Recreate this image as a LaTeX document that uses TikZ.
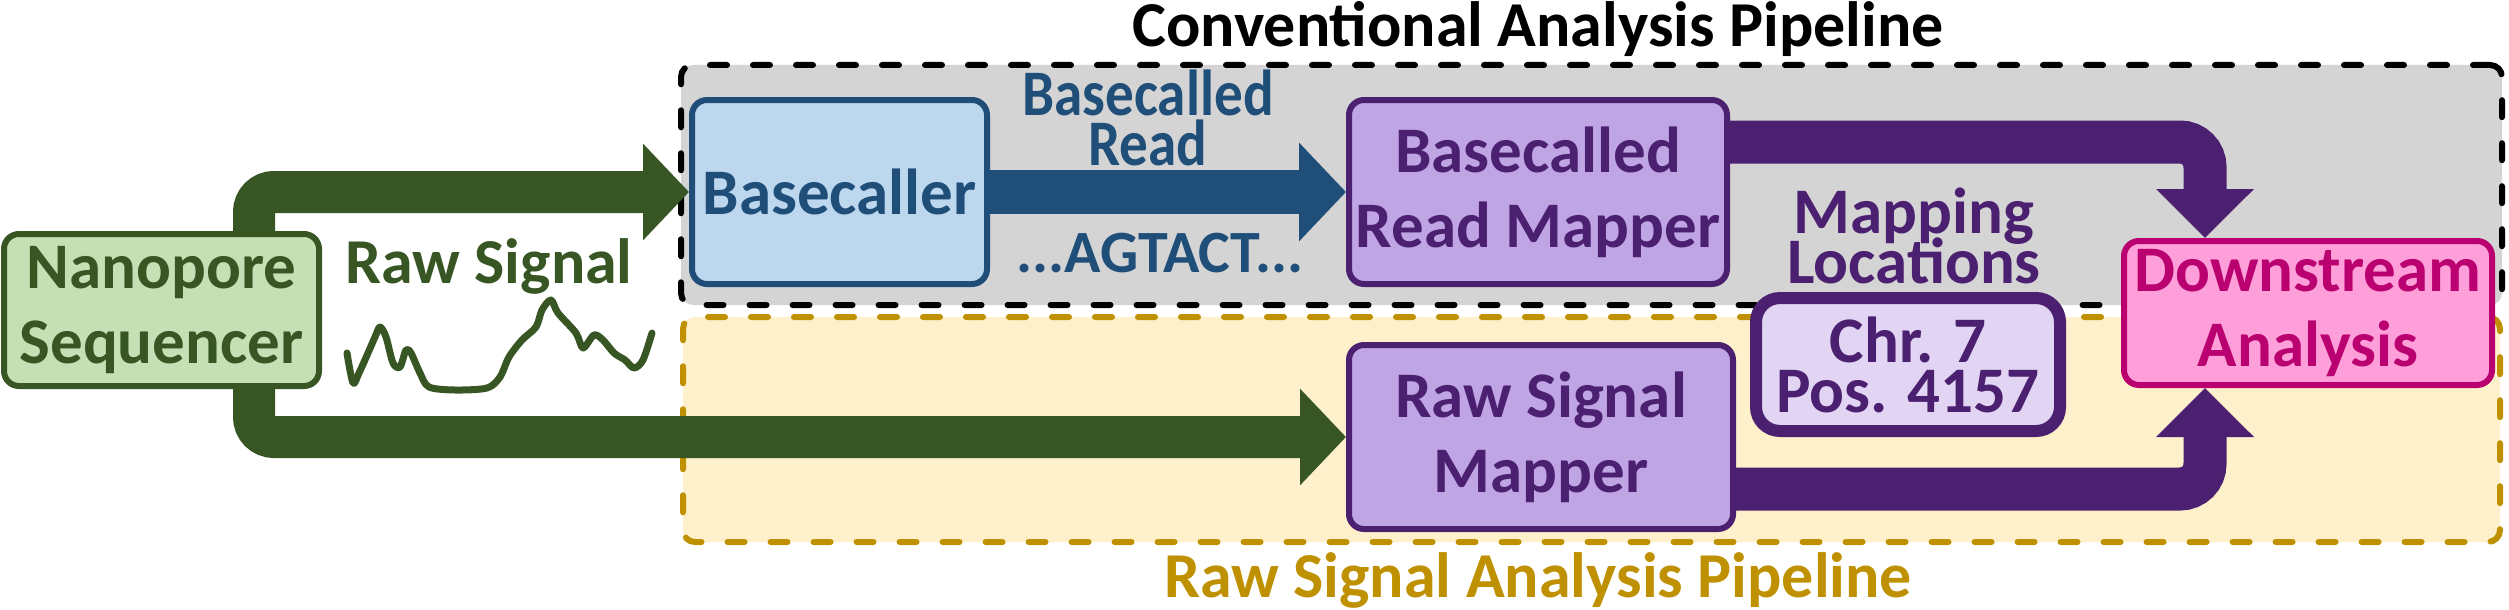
\documentclass[tikz,border=0pt]{standalone}
\usepackage{fontspec}
\setmainfont{Carlito}
\newfontfamily\condfont{Carlito}[FakeStretch=0.88]
\usetikzlibrary{arrows.meta}

\definecolor{greendark}{HTML}{375623}
\definecolor{greenfill}{HTML}{C5E0B4}
\definecolor{bluedark}{HTML}{1F4E79}
\definecolor{bluefill}{HTML}{BDD7EE}
\definecolor{purpdark}{HTML}{4C2070}
\definecolor{purpfill}{HTML}{BFA5E3}
\definecolor{purplite}{HTML}{E1D5F3}
\definecolor{pinkdark}{HTML}{BA0070}
\definecolor{pinkfill}{HTML}{FF9FD9}
\definecolor{grayfill}{HTML}{D4D4D4}
\definecolor{yelfill}{HTML}{FFF0CC}
\definecolor{golddark}{HTML}{BF9000}

\newcommand\tightlines{\lineskiplimit=-100pt\relax}

\begin{document}
\begin{tikzpicture}[
    x=1pt, y=-1pt,
    box/.style={draw, line width=6pt, rounded corners=15pt, align=center,
                inner sep=0pt, font=\fontsize{65}{75}\selectfont\bfseries},
    pipebox/.style={draw, line width=6pt, rounded corners=12pt, inner sep=0pt,
                    line cap=round, dash pattern=on 17pt off 26pt},
    title/.style={anchor=base, inner sep=0pt, font=\fontsize{64}{70}\selectfont\bfseries},
    lbl/.style={inner sep=0pt, align=center,
                font=\fontsize{65}{50}\selectfont\bfseries\tightlines},
    greenarrow/.style={draw=greendark, line width=42pt, rounded corners=20pt,
                       -{Triangle[width=94pt, length=46pt]}},
    purparrow/.style={draw=purpdark, line width=43pt, rounded corners=25pt,
                      -{Triangle[width=95pt, length=49pt]}},
    bluearrow/.style={draw=bluedark, line width=44pt,
                      -{Triangle[width=96pt, length=47pt]}},
]
\useasboundingbox (0,0) rectangle (2509,610);

% === Pipeline frames ===
\node[pipebox, fill=grayfill, draw=black, minimum width=1821pt, minimum height=240pt]
     (convbox) at (1591.5,185) {};
\node[pipebox, fill=yelfill, draw=golddark, minimum width=1817pt, minimum height=225pt]
     (rawbox) at (1591.5,429.5) {};
\node[title, text=black] (convtitle) at (1538,47) {Conventional Analysis Pipeline};
\node[title, text=golddark] (rawtitle) at (1538,597) {Raw Signal Analysis Pipeline};

% === Boxes ===
\node[box, fill=bluefill, draw=bluedark, text=bluedark,
      minimum width=295pt, minimum height=184pt] (basecaller) at (839.5,192) {Basecaller};
\node[box, fill=purpfill, draw=purpdark, text=purpdark,
      minimum width=378pt, minimum height=184pt] (bcmapper) at (1538,192) {Basecalled\\Read Mapper};
\node[box, fill=purpfill, draw=purpdark, text=purpdark,
      minimum width=384pt, minimum height=184pt] (rsmapper) at (1541,437) {Raw Signal\\Mapper};
\node[box, fill=pinkfill, draw=pinkdark, text=pinkdark,
      minimum width=368pt, minimum height=144pt] (downstream) at (2308,313) {Downstream\\Analysis};

% === Arrows ===
\coordinate (split) at (254,310);
\draw[greenarrow] (split) |- (basecaller.west);
\draw[greenarrow] (split) |- (rsmapper.west);
\draw[bluearrow] (basecaller.east) -- (bcmapper.west);
\draw[purparrow] ([yshift=50pt]bcmapper.east) -| ([xshift=-103pt]downstream.north);
\draw[purparrow] ([yshift=-52pt]rsmapper.east) -| ([xshift=-103pt]downstream.south);

% source box on top of the split
\node[box, fill=greenfill, draw=greendark, text=greendark,
      minimum width=315pt, minimum height=152pt] (nano) at (161.5,310) {Nanopore\\Sequencer};

% === Mapping result ===
\node[box, fill=purplite, draw=purpdark, text=purpdark, line width=12pt,
      rounded corners=24pt, font=\fontsize{65}{50}\selectfont\bfseries\tightlines,
      minimum width=304pt, minimum height=133pt] (locbox) at (1908,364.5) {Chr. 7\\Pos. 4157};

% === Labels ===
\node[title, text=greendark] (siglabel) at (489,283) {Raw Signal};
\draw[greendark, line width=7pt, line cap=round, line join=round]
  plot[smooth, tension=0.5] coordinates {(347,353) (353,383) (359,373) (368,353) (375,337)
  (380,327) (386,337) (393,363) (400,367) (406,350) (411,353) (420,373) (429,387)
  (455,390) (487,388) (500,377) (509,357) (522,340) (536,327) (542,310) (551,300)
  (558,313) (576,333) (583,348) (594,335) (603,340) (614,353) (625,360) (634,368)
  (643,360) (652,333)};
\node[lbl, text=bluedark, font=\condfont\fontsize{65}{50}\selectfont\bfseries\tightlines]
     (readlabel) at (1148,117.5) {Basecalled\\Read};
\node[title, text=bluedark, font=\fontsize{60}{70}\selectfont\bfseries] (seqlabel) at (1160,272) {...AGTACT...};
\node[lbl, text=purpdark] (loclabel) at (1914,235.5) {Mapping\\Locations};

\end{tikzpicture}
\end{document}
